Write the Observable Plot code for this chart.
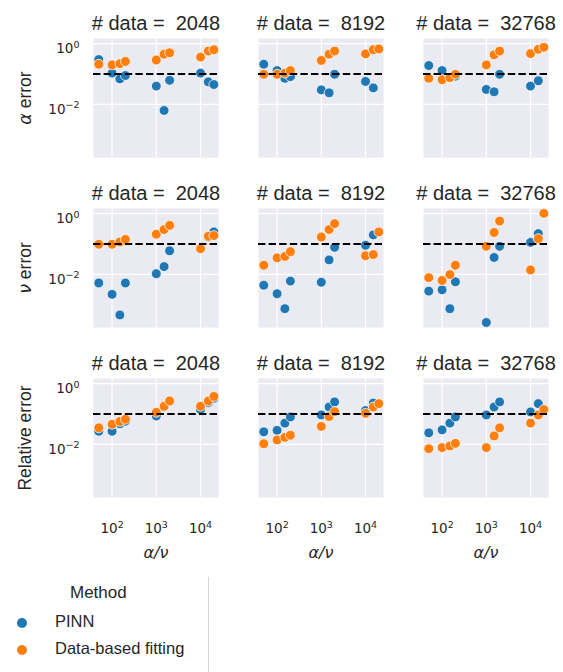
<!DOCTYPE html>
<html>
<head>
<meta charset="utf-8">
<script src="https://cdn.jsdelivr.net/npm/d3@7"></script>
<script src="https://cdn.jsdelivr.net/npm/@observablehq/plot@0.6"></script>
<style>
  body { margin: 0; background: white; }
  svg text { white-space: pre; }
  #wrap { width: 563px; font-family: "Liberation Sans", Arial, sans-serif; color: #262626; }
  #legend { position: relative; width: 563px; height: 107px; }
  #legend .t { position: absolute; font-size: 16.5px; line-height: 20px; white-space: nowrap; }
  #legend .d { position: absolute; width: 10px; height: 10px; border-radius: 50%; }
</style>
</head>
<body>
<div id="wrap">
  <div id="chart"></div>
  <div id="legend"></div>
</div>
<script>
const ratios = [50, 100, 150, 200, 1000, 1500, 2000, 10000, 15000, 20000];
const dataSizes = [2048, 8192, 32768];
const metrics = ["α error", "ν error", "Relative error"];
const methods = ["PINN", "Data-based fitting"];
const methodColors = ["#1f77b4", "#ff7f0e"];
const xTicks = [100, 1000, 10000];
const xTickExponents = ["2", "3", "4"];
const yTicks = [1, 0.01];
const yTickExponents = ["0", "−2"];
const threshold = [0.1];

// rows: data size 2048, 8192, 32768 ; columns follow ratios
const pinnAlphaError = [
  [0.30, 0.107, 0.069, 0.089, 0.040, 0.0063, 0.062, 0.107, 0.055, 0.045],
  [0.21, 0.13, 0.072, 0.082, 0.030, 0.024, 0.098, 0.057, 0.035, null],
  [0.19, 0.13, 0.075, 0.085, 0.031, 0.026, 0.098, 0.040, 0.060, null]
];
const fitAlphaError = [
  [0.21, 0.20, 0.22, 0.26, 0.29, 0.45, 0.50, 0.36, 0.57, 0.63],
  [0.098, 0.098, 0.107, 0.13, 0.28, 0.45, 0.57, 0.46, 0.63, 0.67],
  [0.072, 0.065, 0.076, 0.098, 0.20, 0.43, 0.57, 0.47, 0.65, 0.76]
];
const pinnNuError = [
  [0.0052, 0.0022, 0.00046, 0.0052, 0.0105, 0.018, 0.060, 0.072, 0.17, 0.25],
  [0.0044, 0.0023, 0.00074, 0.006, 0.0055, 0.030, 0.078, 0.091, 0.20, null],
  [0.0028, 0.0031, 0.00074, 0.0057, 0.00026, 0.036, 0.084, 0.113, 0.22, null]
];
const fitNuError = [
  [0.098, 0.098, 0.117, 0.142, 0.21, 0.30, 0.41, 0.07, 0.18, 0.19],
  [0.020, 0.035, 0.039, 0.056, 0.17, 0.30, 0.47, 0.041, 0.045, 0.25],
  [0.0078, 0.0063, 0.0098, 0.020, 0.084, 0.24, 0.57, 0.014, 0.15, 1.02]
];
const pinnRelError = [
  [0.027, 0.027, 0.048, 0.058, 0.086, 0.17, 0.26, 0.14, 0.24, 0.33],
  [0.026, 0.029, 0.050, 0.080, 0.093, 0.17, 0.25, 0.13, 0.23, null],
  [0.024, 0.030, 0.050, 0.080, 0.093, 0.17, 0.25, 0.117, 0.22, null]
];
const fitRelError = [
  [0.035, 0.046, 0.057, 0.067, 0.114, 0.18, 0.27, 0.18, 0.27, 0.38],
  [0.0105, 0.014, 0.017, 0.020, 0.039, 0.082, 0.12, 0.105, 0.17, 0.22],
  [0.0072, 0.0078, 0.0089, 0.0108, 0.0078, 0.019, 0.035, 0.050, 0.093, 0.14]
];

const byMethod = [
  [pinnAlphaError, pinnNuError, pinnRelError],
  [fitAlphaError, fitNuError, fitRelError]
];
const rows = [];
methods.forEach((method, k) => {
  metrics.forEach((metric, mi) => {
    dataSizes.forEach((size, si) => {
      ratios.forEach((ratio, ri) => {
        const v = byMethod[k][mi][si][ri];
        if (v != null) rows.push({method, metric, size, ratio, value: v});
      });
    });
  });
});

const panels = [];
metrics.forEach(metric => dataSizes.forEach(size => panels.push({metric, size})));

// placeholders "10^e" rewritten below as superscripts
const fmtX = d => "10^" + (xTickExponents[xTicks.indexOf(d)] ?? "");
const fmtY = d => "10^" + (yTickExponents[yTicks.indexOf(d)] ?? "");
const textColor = "#262626";

const chart = Plot.plot({
  width: 563,
  height: 565,
  marginLeft: 92,
  marginRight: 14,
  marginTop: 38,
  marginBottom: 68,
  style: {fontFamily: "'Liberation Sans', Arial, sans-serif", color: textColor, background: "white"},
  fx: {domain: dataSizes, axis: null, paddingInner: 0.245, paddingOuter: 0},
  fy: {domain: metrics, axis: null, paddingInner: 0.3, paddingOuter: 0},
  x: {type: "log", domain: [38, 25500], axis: null},
  y: {type: "log", domain: [Math.pow(10, -3.75), Math.pow(10, 0.17)], axis: null},
  color: {domain: methods, range: methodColors},
  marks: [
    Plot.frame({fill: "#eaeaf2", stroke: null}),
    Plot.gridX({ticks: xTicks, stroke: "white", strokeOpacity: 1, strokeWidth: 1.2}),
    Plot.gridY({ticks: yTicks, stroke: "white", strokeOpacity: 1, strokeWidth: 1.2}),
    Plot.axisX({ticks: xTicks, tickFormat: fmtX, tickSize: 0, tickPadding: 26, fontSize: 13.5,
      fontFamily: "'DejaVu Sans', sans-serif", label: null, facetAnchor: "bottom", fill: textColor}),
    Plot.axisY({ticks: yTicks, tickFormat: fmtY, tickSize: 0, tickPadding: 14, dy: 5, fontSize: 13.5,
      fontFamily: "'DejaVu Sans', sans-serif", label: null, facetAnchor: "left", fill: textColor}),
    Plot.dot(rows, {x: "ratio", y: "value", fx: "size", fy: "metric", fill: "method",
      r: 4.9, stroke: "white", strokeWidth: 0.75}),
    Plot.ruleY(threshold, {stroke: "black", strokeWidth: 2, strokeDasharray: "7.4,3.2"}),
    Plot.text(panels, {fx: "size", fy: "metric", text: d => `# data =  ${d.size}`,
      frameAnchor: "top", lineAnchor: "bottom", dy: -9, fontSize: 20, fill: textColor}),
    Plot.text(panels.filter(d => d.size === dataSizes[0]), {fx: "size", fy: "metric", text: "metric",
      frameAnchor: "left", rotate: -90, dx: -68, textAnchor: "middle", lineAnchor: "middle",
      fontSize: 17.5, fill: textColor}),
    Plot.text(panels.filter(d => d.metric === metrics[2]), {fx: "size", fy: "metric", text: () => "α/ν",
      frameAnchor: "bottom", dy: 55, lineAnchor: "middle", fontSize: 16, fontStyle: "italic",
      fontFamily: "'DejaVu Sans', sans-serif", fill: textColor})
  ]
});
document.getElementById("chart").appendChild(chart);

const ns = "http://www.w3.org/2000/svg";
chart.querySelectorAll("text").forEach(t => {
  const s = t.textContent;
  // Greek symbols in the row labels rendered as math italic
  if (s === "α error" || s === "ν error") {
    t.textContent = "";
    const a = document.createElementNS(ns, "tspan");
    a.setAttribute("font-style", "italic");
    a.setAttribute("font-family", "'DejaVu Sans', sans-serif");
    a.textContent = s[0];
    const b = document.createElementNS(ns, "tspan");
    b.textContent = " error";
    t.appendChild(a);
    t.appendChild(b);
  }
  // log tick labels as 10 with a raised exponent
  const m = /^10\^(.+)$/.exec(s);
  if (m) {
    t.textContent = "";
    const base = document.createElementNS(ns, "tspan");
    base.textContent = "10";
    const sup = document.createElementNS(ns, "tspan");
    sup.setAttribute("dy", "-0.55em");
    sup.setAttribute("font-size", "9.5");
    sup.textContent = m[1];
    t.appendChild(base);
    t.appendChild(sup);
  }
});

// Legend
const legend = document.getElementById("legend");
const line = document.createElement("div");
line.style.cssText = "position:absolute;left:208px;top:12px;bottom:0;width:1px;background:#d6d6d6;";
legend.appendChild(line);
const title = document.createElement("div");
title.className = "t";
title.style.cssText = "left:70px;top:18px;font-size:17px;";
title.textContent = "Method";
legend.appendChild(title);
methods.forEach((m, i) => {
  const cy = 58 + i * 27;
  const dot = document.createElement("div");
  dot.className = "d";
  dot.style.left = "16.5px";
  dot.style.top = (cy - 5) + "px";
  dot.style.background = methodColors[i];
  legend.appendChild(dot);
  const t = document.createElement("div");
  t.className = "t";
  t.style.left = "55px";
  t.style.top = (cy - 12) + "px";
  t.textContent = m;
  legend.appendChild(t);
});
</script>
</body>
</html>
